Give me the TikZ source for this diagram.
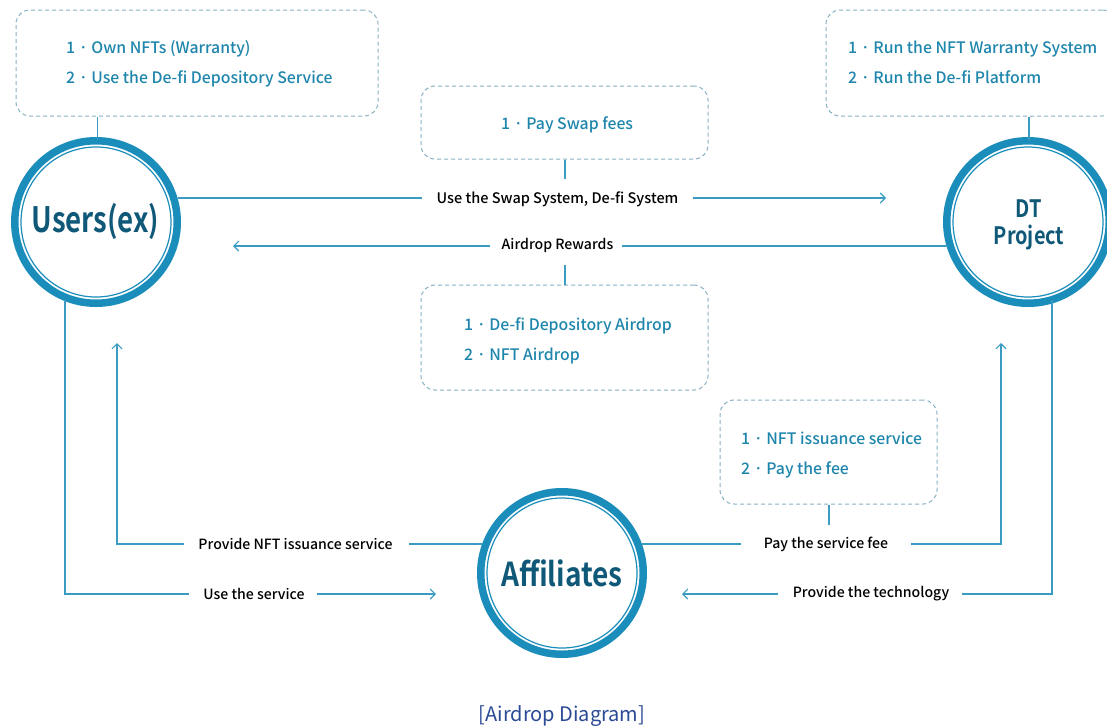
\documentclass[tikz,border=0pt]{standalone}
\usepackage{fontspec}
\setmainfont{Noto Sans CJK KR}[BoldFont={Noto Sans CJK KR Bold}]
\newfontfamily\medfont{Noto Sans CJK KR Medium}
\usetikzlibrary{arrows.meta}
\definecolor{ring}{HTML}{1B8DBB}
\definecolor{flow}{HTML}{3A9CC2}
\definecolor{dash}{HTML}{88B2C4}
\definecolor{note}{HTML}{1E86AC}
\definecolor{head}{HTML}{0F5878}
\definecolor{capt}{HTML}{2B4A96}
\tikzset{
  x=1pt,y=-1pt,
  actor/.style={circle,draw=ring,line width=7.5pt,fill=white,minimum size=162.5pt,inner sep=0pt,outer sep=3.75pt},
  halo/.style={circle,draw=ring,line width=1.2pt,minimum size=150pt,inner sep=0pt},
  actorname/.style={text=head,inner sep=0pt,align=center,font=\bfseries\fontsize{35}{35}\selectfont},
  notebox/.style={draw=dash,line width=1pt,dash pattern=on 4pt off 3pt,rounded corners=14pt,inner sep=0pt,fill=white},
  notetext/.style={text=note,font=\medfont\fontsize{15.8}{30}\selectfont,align=left,inner sep=0pt,anchor=west},
  flowlabel/.style={text=black,font=\medfont\fontsize{14.1}{16}\selectfont,inner sep=0pt},
  conn/.style={draw=flow,line width=1.3pt},
  tip/.style={conn,-{Straight Barb[length=5pt,width=10pt,line width=1.1pt]}},
}
\begin{document}
\begin{tikzpicture}
\useasboundingbox (0,0) rectangle (1107,726);
\clip (0,0) rectangle (1107,726);
\fill[white] (0,0) rectangle (1107,726);

% actors
\node[actor] (users) at (96,222) {};
\node[halo] at (users) {};
\node[actorname] (usersname) at (95.5,221.5) {\scalebox{0.79}[1]{Users(ex)}};
\node[actor] (dt) at (1028,222) {};
\node[halo] at (dt) {};
\node[actorname,font=\bfseries\fontsize{24}{27}\selectfont] (dtname) at (1029,224.5) {\scalebox{0.83}[1]{DT}\\\scalebox{0.83}[1]{Project}};
\node[actor] (aff) at (562,573) {};
\node[halo] at (aff) {};
\node[actorname,font=\bfseries\fontsize{33}{33}\selectfont] (affname) at (562,573) {\scalebox{0.85}[1]{Affiliates}};

% note boxes
\node[notebox,minimum width=362pt,minimum height=106pt] (nu) at (197,63) {};
\node[notetext] (nut) at (66,64) {1 · Own NFTs (Warranty)\\2 · Use the De-fi Depository Service};
\node[notebox,minimum width=290pt,minimum height=106pt] (nd) at (971,63) {};
\node[notetext] (ndt) at (848,62) {1 · Run the NFT Warranty System\\2 · Run the De-fi Platform};
\node[notebox,minimum width=287pt,minimum height=73pt] (ns) at (564.5,122.5) {};
\node[notetext] (nst) at (501,125) {1 · Pay Swap fees};
\node[notebox,minimum width=287pt,minimum height=105pt] (na) at (564.5,337.5) {};
\node[notetext] (nat) at (464,341) {1 · De-fi Depository Airdrop\\2 · NFT Airdrop};
\node[notebox,minimum width=217pt,minimum height=104pt] (nf) at (828.5,452) {};
\node[notetext] (nft) at (741,455) {1 · NFT issuance service\\2 · Pay the fee};

% flow labels
\node[flowlabel,font=\medfont\fontsize{14.5}{16}\selectfont] (l1) at (557.5,199) {Use the Swap System, De-fi System};
\node[flowlabel] (l2) at (557.5,245) {Airdrop Rewards};
\node[flowlabel] (l3) at (295.5,544) {Provide NFT issuance service};
\node[flowlabel] (l4) at (254,593.5) {Use the service};
\node[flowlabel] (l5) at (826,544) {Pay the service fee};
\node[flowlabel] (l6) at (871,593.5) {Provide the technology};

% free ends
\coordinate (t1) at (886,198);
\coordinate (t2) at (233,246);
\coordinate (t3) at (117,343);
\coordinate (b3) at (117,544);
\coordinate (t4) at (436,594);
\coordinate (b4) at (65,594);
\coordinate (t5) at (1001,343);
\coordinate (b5) at (1001,544);
\coordinate (t6) at (682,594);
\coordinate (b6) at (1052,594);
\coordinate (u4) at (65,300);
\coordinate (d6) at (1052,300);
\coordinate (s1) at (565,179);
\coordinate (s2) at (565,265);
\coordinate (s3) at (829,525);
\coordinate (c1) at (97.5,140);
\coordinate (c2) at (1029,140);

% connectors
\draw[conn] (c1 |- nu.south) -- (c1);
\draw[conn] (c2 |- nd.south) -- (c2);
\draw[conn] (s1 |- ns.south) -- (s1);
\draw[conn] (s2 |- na.north) -- (s2);
\draw[conn] (s3 |- nf.south) -- (s3);

\draw[conn] (178,198) -- ([xshift=-14pt]l1.west |- t1);
\draw[tip] ([xshift=14pt]l1.east |- t1) -- (t1);
\draw[conn] (948,246) -- ([xshift=8pt]l2.east |- t2);
\draw[tip] ([xshift=-11pt]l2.west |- t2) -- (t2);

\draw[conn] (482,544) -- ([xshift=16pt]l3.east |- b3);
\draw[tip] ([xshift=-14pt]l3.west |- b3) -- (b3) -- (t3);
\draw[conn] (u4) -- (b4) -- ([xshift=-14pt]l4.west |- b4);
\draw[tip] ([xshift=12pt]l4.east |- b4) -- (t4);

\draw[conn] (642,544) -- ([xshift=-23pt]l5.west |- b5);
\draw[tip] ([xshift=23pt]l5.east |- b5) -- (b5) -- (t5);
\draw[conn] (d6) -- (b6) -- ([xshift=13pt]l6.east |- b6);
\draw[tip] ([xshift=-15pt]l6.west |- b6) -- (t6);

% caption
\node[text=capt,font=\fontsize{20}{24}\selectfont,inner sep=0pt] (cap) at (562,716.5) {[Airdrop Diagram]};
\end{tikzpicture}
\end{document}
